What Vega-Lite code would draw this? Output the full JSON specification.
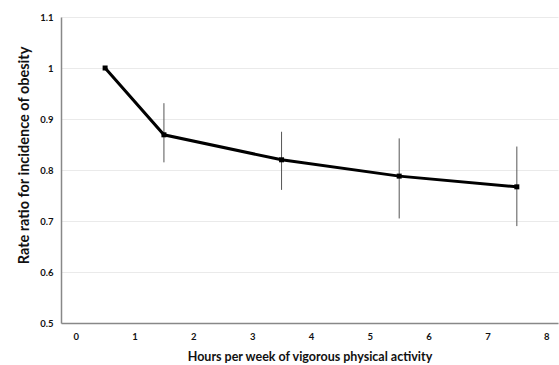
{
  "$schema": "https://vega.github.io/schema/vega-lite/v6.json",
  "width": 497,
  "height": 306,
  "autosize": {"type": "none"},
  "padding": {"left": 61, "top": 17, "right": 1, "bottom": 42},
  "background": "white",
  "data": {"values": [
    {"hours": 0.5, "rr": 1.0, "lo": 1.0, "hi": 1.0},
    {"hours": 1.5, "rr": 0.869, "lo": 0.815, "hi": 0.931},
    {"hours": 3.5, "rr": 0.82, "lo": 0.761, "hi": 0.875},
    {"hours": 5.5, "rr": 0.788, "lo": 0.705, "hi": 0.862},
    {"hours": 7.5, "rr": 0.767, "lo": 0.69, "hi": 0.846}
  ]},
  "config": {
    "view": {"stroke": null},
    "axis": {
      "labelFont": "Lato", "labelFontWeight": "bold", "labelFontSize": 9.5, "labelColor": "#111",
      "titleFont": "Lato", "titleFontWeight": "bold", "titleColor": "#111",
      "domainColor": "#888", "domainWidth": 1.5, "ticks": false, "gridColor": "#eaeaea", "gridWidth": 1
    }
  },
  "layer": [
    {
      "mark": {"type": "rule", "color": "#555", "strokeWidth": 1},
      "encoding": {
        "x": {"field": "hours", "type": "quantitative"},
        "y": {"field": "lo", "type": "quantitative"},
        "y2": {"field": "hi"}
      }
    },
    {
      "mark": {"type": "line", "color": "#000", "strokeWidth": 3, "point": {"filled": true, "color": "#000", "size": 25, "shape": "square"}},
      "encoding": {
        "x": {"field": "hours", "type": "quantitative",
          "scale": {"domain": [-0.25, 8.2], "nice": false, "zero": false},
          "axis": {"values": [0,1,2,3,4,5,6,7,8], "format": "d", "grid": false, "labelPadding": 8, "title": "Hours per week of vigorous physical activity", "titleFontSize": 12.5, "titlePadding": 10}},
        "y": {"field": "rr", "type": "quantitative",
          "scale": {"domain": [0.5, 1.1], "nice": false, "zero": false},
          "axis": {"values": [0.5,0.6,0.7,0.8,0.9,1,1.1], "format": "~g", "labelPadding": 8, "title": "Rate  ratio for incidence of obesity", "titleFontSize": 14.5, "titleY": 138, "titlePadding": 8}}
      }
    }
  ]
}
